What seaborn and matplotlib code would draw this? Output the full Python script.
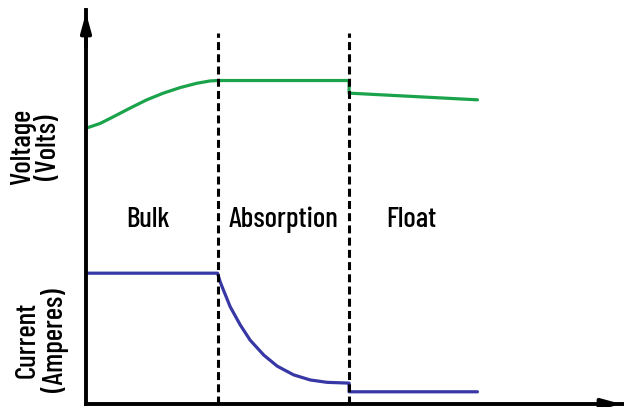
import seaborn as sns
import pandas as pd
import matplotlib.pyplot as plt

# charging stages (time in arbitrary units, level in arbitrary units 0-100)
stages = ["Bulk", "Absorption", "Float"]
stage_bounds = [1.0, 2.0]

volt_x = [0.0, 0.107, 0.208, 0.335, 0.462, 0.588, 0.715, 0.842, 0.944, 1.0, 2.0, 2.0, 2.976]
volt_y = [70.0, 71.2, 72.9, 75.1, 77.2, 78.9, 80.3, 81.4, 82.0, 82.1, 82.1, 78.9, 77.2]

curr_x = [0.0, 1.0, 1.02, 1.045, 1.096, 1.172, 1.248, 1.352, 1.454, 1.578, 1.705, 1.832, 2.0, 2.0, 2.976]
curr_y = [33.2, 33.2, 31.0, 28.9, 24.7, 20.1, 16.2, 12.4, 9.6, 7.4, 6.1, 5.5, 5.3, 3.1, 3.1]

volt = pd.DataFrame({"t": volt_x, "v": volt_y})
curr = pd.DataFrame({"t": curr_x, "i": curr_y})

sns.set_style("white")
plt.rcParams['font.family'] = ['Barlow Condensed', 'DejaVu Sans']
plt.rcParams['font.weight'] = 500
plt.rcParams['text.color'] = 'black'

fig = plt.figure(figsize=(6.24, 4.07), dpi=100)
ax = fig.add_axes([86 / 624, 3 / 407, 538 / 624, 394 / 407])

sns.lineplot(data=volt, x="t", y="v", estimator=None, sort=False,
             color="#1ba34c", lw=2.3, ax=ax)
sns.lineplot(data=curr, x="t", y="i", estimator=None, sort=False,
             color="#3737a6", lw=2.3, ax=ax)

for b in stage_bounds:
    ax.plot([b, b], [0, 94.2], color="black", lw=2.2, ls=(0, (2.6, 1.4)))

label_x = [0.47, 1.50, 2.47]
for name, lx in zip(stages, label_x):
    ax.text(lx, 44.9, name, ha="center", va="baseline", fontsize=21)

ax.set_xlim(0, 4.09)
ax.set_ylim(0, 100)
ax.set_xticks([])
ax.set_yticks([])
ax.set_xlabel("")
ax.set_ylabel("")
for s in ["top", "right"]:
    ax.spines[s].set_visible(False)
for s in ["left", "bottom"]:
    ax.spines[s].set_linewidth(2.8)
    ax.spines[s].set_color("black")

arrow = dict(arrowstyle="-|>,head_length=1.1,head_width=0.3", color="black", lw=2.8)
ax.annotate("", xy=(0, 1.0), xytext=(0, 0.9), xycoords="axes fraction", arrowprops=arrow)
ax.annotate("", xy=(1.0, 0), xytext=(0.95, 0), xycoords="axes fraction", arrowprops=arrow)

fig.text(36 / 624, 1 - 147 / 407, "Voltage\n(Volts)", rotation=90, ha="center",
         va="center", fontsize=21, linespacing=1.0)
fig.text(42 / 624, 1 - 340 / 407, "Current\n(Amperes)", rotation=90, ha="center",
         va="center", fontsize=21, linespacing=1.0)

fig.savefig("out.png", dpi=100)
